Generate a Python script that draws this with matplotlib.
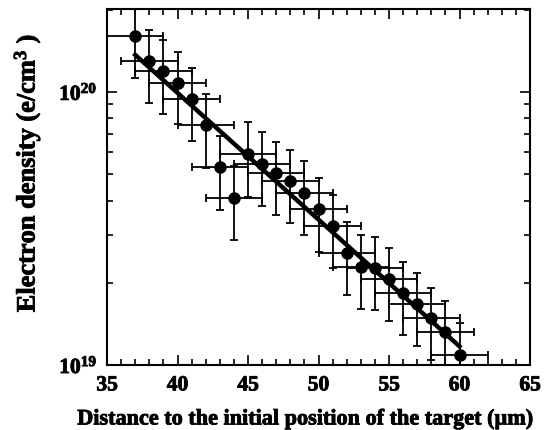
import numpy as np
import matplotlib
matplotlib.use("Agg")
import matplotlib.pyplot as plt
import matplotlib.patheffects as pe
from matplotlib.ticker import FixedLocator, LogLocator, NullFormatter

# Measured electron density profile
distance = [37, 38, 39, 40, 41, 42, 43, 44, 45, 46, 47, 48,
            49, 50, 51, 52, 53, 54, 55, 56, 57, 58, 59, 60]
density = [16.0e19, 13.0e19, 11.9e19, 10.8e19, 9.4e19, 7.55e19, 5.3e19, 4.1e19,
           5.93e19, 5.46e19, 5.05e19, 4.71e19, 4.28e19, 3.71e19, 3.23e19, 2.58e19,
           2.29e19, 2.27e19, 2.07e19, 1.84e19, 1.67e19, 1.48e19, 1.32e19, 1.09e19]
density_err = [4.8e19, 3.9e19, 3.6e19, 3.2e19, 2.8e19, 2.3e19, 1.6e19, 1.23e19,
               1.8e19, 1.64e19, 1.5e19, 1.41e19, 1.28e19, 1.11e19, 0.97e19, 0.77e19,
               0.69e19, 0.68e19, 0.62e19, 0.55e19, 0.50e19, 0.44e19, 0.40e19, 0.33e19]
distance_err = [2] * len(distance)

# Exponential fit (straight on the log axis)
fit_x = [37, 60]
fit_y = [1.366e20, 1.17e19]

x_ticks = [35, 40, 45, 50, 55, 60, 65]
y_ticks = [1e19, 1e20]
y_tick_labels = [r"$\mathbf{10^{19}}$", r"$\mathbf{10^{20}}$"]

plt.rcParams["font.family"] = ["Liberation Serif", "DejaVu Serif"]
plt.rcParams["font.weight"] = "bold"
plt.rcParams["mathtext.fontset"] = "custom"
plt.rcParams["mathtext.rm"] = "Liberation Serif:bold"
plt.rcParams["mathtext.bf"] = "Liberation Serif:bold"
plt.rcParams["mathtext.it"] = "Liberation Serif:bold:italic"

heavy = [pe.withStroke(linewidth=0.6, foreground="black")]

fig = plt.figure(figsize=(5.44, 4.30), dpi=100)
ax = fig.add_axes([0.1967, 0.1512, 0.7776, 0.8278])

ax.errorbar(distance, density, yerr=density_err, xerr=distance_err,
            fmt="o", color="black", ms=8, elinewidth=1.3,
            capsize=3, capthick=1.3, zorder=3)
ax.plot(fit_x, fit_y, color="black", lw=3.2, zorder=4)

ax.set_yscale("log")
ax.set_xlim(35, 65)
ax.set_ylim(1e19, 2.01e20)

ax.xaxis.set_major_locator(FixedLocator(x_ticks))
ax.xaxis.set_minor_locator(FixedLocator(np.arange(35, 66, 1)))
ax.set_xticklabels([str(t) for t in x_ticks])
ax.yaxis.set_major_locator(FixedLocator(y_ticks))
ax.yaxis.set_minor_locator(LogLocator(base=10, subs=np.arange(2, 10)))
ax.yaxis.set_minor_formatter(NullFormatter())
ax.set_yticklabels(y_tick_labels)

ax.tick_params(which="both", direction="in", top=True, right=True,
               width=1.2, labelsize=15.5)
ax.tick_params(which="major", length=7)
ax.tick_params(which="minor", length=4)
ax.tick_params(axis="x", pad=7.5)
ax.tick_params(axis="y", pad=7)
for sp in ax.spines.values():
    sp.set_linewidth(1.5)

for lab in ax.get_xticklabels() + ax.get_yticklabels():
    lab.set_path_effects(heavy)

xl = ax.set_xlabel("Distance to the initial position of the target (\u00b5m)",
                   fontsize=16, fontweight="bold")
yl = ax.set_ylabel("Electron density (e/cm$^{3}$ )", fontsize=19, fontweight="bold")
ax.xaxis.set_label_coords(0.4716, -0.125)
ax.yaxis.set_label_coords(-0.151, 0.539)
xl.set_path_effects(heavy)
yl.set_path_effects(heavy)

fig.savefig("out.png", dpi=100)
